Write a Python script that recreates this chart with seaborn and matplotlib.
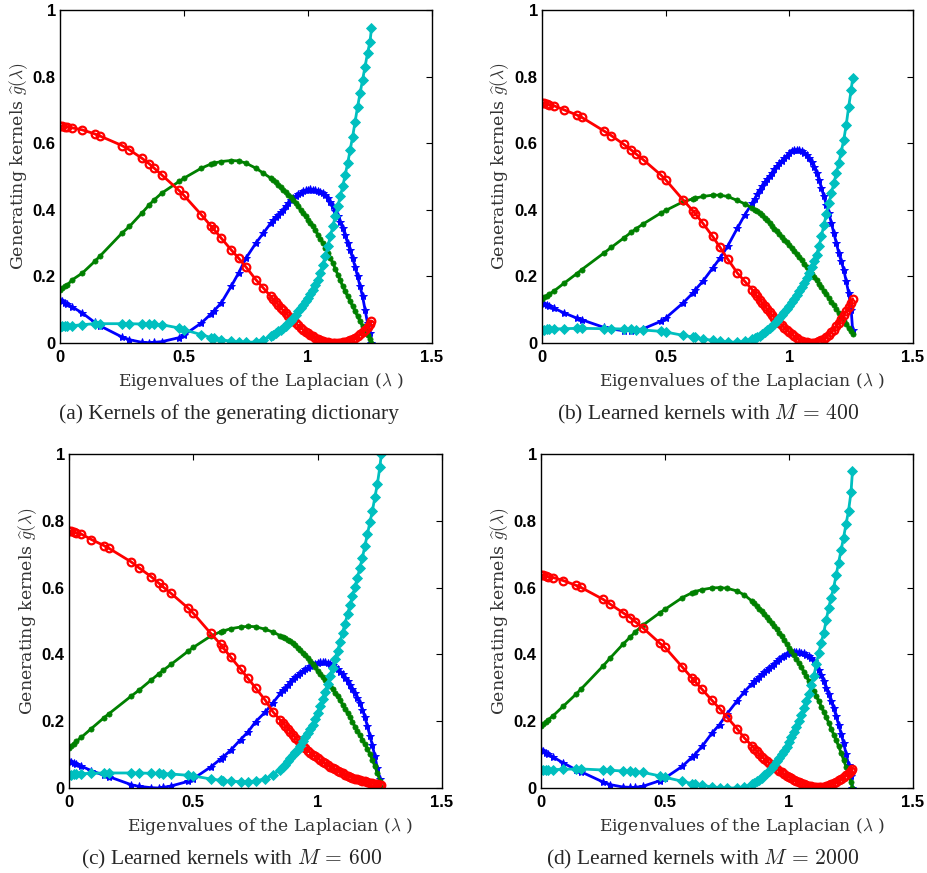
import matplotlib
matplotlib.use("Agg")
import matplotlib.pyplot as plt
import seaborn as sns
import pandas as pd

# Eigenvalues of the Laplacian: sparse low part and dense high part
lam_low = [0.00, 0.01, 0.02, 0.03, 0.05, 0.09, 0.14, 0.16,
           0.25, 0.28, 0.33, 0.36, 0.38, 0.41,
           0.48, 0.50, 0.57, 0.61, 0.62, 0.65, 0.69, 0.72, 0.75, 0.79, 0.82, 0.85]
lam_high = [0.86, 0.87, 0.88, 0.89, 0.90, 0.91, 0.92, 0.93, 0.94, 0.95,
            0.96, 0.97, 0.98, 0.99, 1.00, 1.01, 1.02, 1.03, 1.04, 1.05,
            1.06, 1.07, 1.08, 1.09, 1.10, 1.11, 1.12, 1.13, 1.14, 1.15,
            1.16, 1.17, 1.18, 1.19, 1.20, 1.21, 1.22, 1.23, 1.24, 1.25,
            1.256]

# ---------------- (a) generating dictionary ----------------
a_red_low = [0.652, 0.651, 0.650, 0.649, 0.646, 0.640, 0.628, 0.622,
             0.593, 0.580, 0.555, 0.538, 0.525, 0.505,
             0.458, 0.443, 0.385, 0.350, 0.342, 0.315, 0.280, 0.255, 0.228, 0.190, 0.165, 0.140]
a_red_high = [0.131, 0.123, 0.115, 0.106, 0.098, 0.090, 0.082, 0.074, 0.067, 0.060,
              0.053, 0.046, 0.040, 0.034, 0.029, 0.024, 0.020, 0.016, 0.012, 0.009,
              0.006, 0.004, 0.002, 0.001, 0.000, 0.000, 0.000, 0.001, 0.002, 0.004,
              0.006, 0.009, 0.012, 0.016, 0.020, 0.026, 0.032, 0.039, 0.047, 0.056,
              0.065]
a_green_low = [0.160, 0.165, 0.170, 0.175, 0.190, 0.210, 0.245, 0.260,
               0.330, 0.350, 0.390, 0.415, 0.430, 0.450,
               0.485, 0.495, 0.525, 0.538, 0.540, 0.545, 0.548, 0.547, 0.540, 0.525, 0.510, 0.495]
a_green_high = [0.489, 0.482, 0.475, 0.468, 0.460, 0.453, 0.445, 0.438, 0.430, 0.420,
                0.410, 0.400, 0.390, 0.380, 0.370, 0.360, 0.350, 0.338, 0.325, 0.313,
                0.300, 0.285, 0.270, 0.255, 0.240, 0.223, 0.205, 0.188, 0.170, 0.155,
                0.140, 0.125, 0.110, 0.095, 0.080, 0.065, 0.050, 0.038, 0.025, 0.012,
                0.000]
a_blue_low = [0.130, 0.125, 0.120, 0.116, 0.108, 0.090, 0.062, 0.052,
              0.018, 0.010, 0.002, 0.001, 0.002, 0.004,
              0.016, 0.024, 0.060, 0.088, 0.096, 0.120, 0.170, 0.210, 0.255, 0.300, 0.330, 0.360]
a_blue_high = [0.368, 0.377, 0.385, 0.392, 0.400, 0.410, 0.420, 0.428, 0.435, 0.441,
               0.447, 0.451, 0.455, 0.458, 0.460, 0.461, 0.460, 0.459, 0.457, 0.454,
               0.450, 0.443, 0.435, 0.423, 0.410, 0.396, 0.380, 0.363, 0.345, 0.323,
               0.300, 0.278, 0.255, 0.228, 0.200, 0.170, 0.140, 0.100, 0.060, 0.030,
               0.000]
a_cyan_low = [0.048, 0.050, 0.050, 0.051, 0.052, 0.055, 0.058, 0.058,
              0.058, 0.058, 0.057, 0.057, 0.056, 0.055,
              0.045, 0.040, 0.025, 0.016, 0.014, 0.010, 0.005, 0.002, 0.002, 0.003, 0.010, 0.020]
a_cyan_high = [0.025, 0.030, 0.035, 0.040, 0.045, 0.052, 0.060, 0.067, 0.075, 0.085,
               0.095, 0.105, 0.115, 0.125, 0.135, 0.147, 0.160, 0.175, 0.190, 0.210,
               0.235, 0.262, 0.290, 0.320, 0.350, 0.380, 0.410, 0.440, 0.470, 0.505,
               0.540, 0.580, 0.620, 0.665, 0.710, 0.750, 0.790, 0.830, 0.870, 0.905,
               0.945]

# ---------------- (b) M = 400 ----------------
b_red_low = [0.722, 0.720, 0.718, 0.716, 0.712, 0.700, 0.685, 0.678,
             0.637, 0.623, 0.597, 0.580, 0.568, 0.550,
             0.505, 0.490, 0.430, 0.397, 0.388, 0.360, 0.320, 0.287, 0.253, 0.210, 0.185, 0.160]
b_red_high = [0.150, 0.140, 0.130, 0.121, 0.112, 0.102, 0.093, 0.084, 0.076, 0.068,
              0.060, 0.053, 0.046, 0.039, 0.033, 0.026, 0.020, 0.015, 0.010, 0.007,
              0.004, 0.002, 0.001, 0.001, 0.001, 0.003, 0.005, 0.009, 0.013, 0.019,
              0.025, 0.032, 0.040, 0.050, 0.060, 0.072, 0.085, 0.096, 0.108, 0.120,
              0.133]
b_green_low = [0.132, 0.137, 0.142, 0.147, 0.157, 0.180, 0.208, 0.220,
               0.270, 0.287, 0.315, 0.332, 0.343, 0.358,
               0.390, 0.398, 0.424, 0.433, 0.435, 0.440, 0.444, 0.444, 0.440, 0.428, 0.418, 0.405]
b_green_high = [0.400, 0.395, 0.390, 0.383, 0.375, 0.368, 0.360, 0.352, 0.343, 0.335,
                0.327, 0.318, 0.310, 0.302, 0.293, 0.284, 0.275, 0.266, 0.257, 0.248,
                0.238, 0.228, 0.218, 0.208, 0.198, 0.188, 0.178, 0.168, 0.157, 0.146,
                0.135, 0.124, 0.113, 0.102, 0.090, 0.078, 0.067, 0.056, 0.045, 0.035,
                0.028]
b_blue_low = [0.120, 0.116, 0.113, 0.110, 0.104, 0.090, 0.075, 0.070,
              0.047, 0.042, 0.037, 0.037, 0.039, 0.043,
              0.065, 0.075, 0.120, 0.150, 0.160, 0.185, 0.225, 0.255, 0.290, 0.345, 0.385, 0.420]
b_blue_high = [0.433, 0.447, 0.460, 0.471, 0.482, 0.492, 0.502, 0.512, 0.522, 0.531,
               0.540, 0.548, 0.556, 0.563, 0.570, 0.576, 0.580, 0.581, 0.580, 0.577,
               0.572, 0.565, 0.555, 0.543, 0.530, 0.512, 0.490, 0.465, 0.440, 0.415,
               0.390, 0.360, 0.330, 0.300, 0.270, 0.245, 0.220, 0.185, 0.150, 0.100,
               0.038]
b_cyan_low = [0.040, 0.040, 0.041, 0.041, 0.042, 0.043, 0.044, 0.044,
              0.043, 0.043, 0.042, 0.041, 0.040, 0.039,
              0.035, 0.033, 0.023, 0.018, 0.017, 0.012, 0.008, 0.005, 0.003, 0.002, 0.005, 0.012]
b_cyan_high = [0.015, 0.018, 0.022, 0.027, 0.033, 0.039, 0.045, 0.051, 0.058, 0.066,
               0.075, 0.084, 0.093, 0.102, 0.112, 0.122, 0.132, 0.143, 0.155, 0.167,
               0.180, 0.195, 0.210, 0.227, 0.245, 0.265, 0.290, 0.322, 0.355, 0.388,
               0.420, 0.450, 0.480, 0.510, 0.540, 0.575, 0.610, 0.655, 0.710, 0.760,
               0.795]

# ---------------- (c) M = 600 ----------------
c_red_low = [0.770, 0.768, 0.766, 0.764, 0.760, 0.744, 0.726, 0.718,
             0.677, 0.660, 0.633, 0.614, 0.601, 0.583,
             0.538, 0.523, 0.463, 0.430, 0.420, 0.392, 0.356, 0.328, 0.300, 0.262, 0.228, 0.203]
c_red_high = [0.195, 0.186, 0.178, 0.169, 0.160, 0.151, 0.143, 0.134, 0.126, 0.119,
              0.112, 0.106, 0.100, 0.095, 0.090, 0.084, 0.079, 0.074, 0.069, 0.064,
              0.060, 0.056, 0.052, 0.048, 0.044, 0.040, 0.037, 0.034, 0.031, 0.028,
              0.026, 0.024, 0.022, 0.020, 0.018, 0.016, 0.015, 0.013, 0.012, 0.010,
              0.009]
c_green_low = [0.120, 0.127, 0.133, 0.140, 0.152, 0.178, 0.210, 0.222,
               0.275, 0.292, 0.323, 0.341, 0.353, 0.370,
               0.410, 0.421, 0.455, 0.468, 0.470, 0.477, 0.482, 0.484, 0.483, 0.475, 0.467, 0.456]
c_green_high = [0.452, 0.448, 0.444, 0.439, 0.433, 0.427, 0.420, 0.413, 0.405, 0.398,
                0.390, 0.381, 0.372, 0.361, 0.350, 0.342, 0.333, 0.324, 0.315, 0.306,
                0.296, 0.285, 0.274, 0.262, 0.250, 0.238, 0.225, 0.212, 0.198, 0.184,
                0.170, 0.158, 0.145, 0.132, 0.118, 0.102, 0.085, 0.065, 0.045, 0.022,
                0.002]
c_blue_low = [0.080, 0.077, 0.074, 0.071, 0.065, 0.052, 0.038, 0.034,
              0.010, 0.005, 0.001, 0.000, 0.002, 0.006,
              0.020, 0.028, 0.063, 0.087, 0.093, 0.113, 0.145, 0.168, 0.198, 0.228, 0.255, 0.283]
c_blue_high = [0.292, 0.300, 0.308, 0.317, 0.325, 0.332, 0.338, 0.344, 0.350, 0.355,
               0.360, 0.364, 0.368, 0.371, 0.374, 0.376, 0.377, 0.377, 0.375, 0.372,
               0.368, 0.362, 0.355, 0.348, 0.340, 0.330, 0.320, 0.309, 0.297, 0.284,
               0.270, 0.253, 0.235, 0.212, 0.185, 0.157, 0.128, 0.095, 0.060, 0.028,
               0.000]
c_cyan_low = [0.040, 0.040, 0.041, 0.042, 0.043, 0.044, 0.045, 0.045,
              0.045, 0.045, 0.044, 0.044, 0.043, 0.042,
              0.038, 0.036, 0.027, 0.023, 0.022, 0.020, 0.019, 0.019, 0.021, 0.028, 0.040, 0.055]
c_cyan_high = [0.062, 0.070, 0.080, 0.090, 0.100, 0.108, 0.115, 0.127, 0.140, 0.152,
               0.165, 0.177, 0.190, 0.207, 0.225, 0.245, 0.265, 0.287, 0.310, 0.335,
               0.360, 0.385, 0.410, 0.437, 0.465, 0.492, 0.520, 0.547, 0.575, 0.602,
               0.630, 0.660, 0.690, 0.725, 0.760, 0.795, 0.830, 0.870, 0.910, 0.960,
               1.000]

# ---------------- (d) M = 2000 ----------------
d_red_low = [0.638, 0.637, 0.635, 0.633, 0.630, 0.621, 0.607, 0.601,
             0.565, 0.550, 0.525, 0.510, 0.498, 0.480,
             0.433, 0.421, 0.362, 0.328, 0.320, 0.295, 0.262, 0.238, 0.212, 0.178, 0.150, 0.127]
d_red_high = [0.118, 0.110, 0.102, 0.094, 0.087, 0.081, 0.075, 0.069, 0.063, 0.057,
              0.052, 0.047, 0.042, 0.037, 0.033, 0.029, 0.025, 0.021, 0.018, 0.015,
              0.012, 0.009, 0.007, 0.005, 0.004, 0.003, 0.003, 0.003, 0.004, 0.006,
              0.008, 0.011, 0.015, 0.019, 0.023, 0.028, 0.033, 0.039, 0.045, 0.052,
              0.058]
d_green_low = [0.185, 0.192, 0.198, 0.205, 0.217, 0.245, 0.280, 0.295,
               0.365, 0.390, 0.430, 0.452, 0.467, 0.487,
               0.525, 0.535, 0.570, 0.585, 0.588, 0.594, 0.599, 0.600, 0.598, 0.590, 0.578, 0.560]
d_green_high = [0.553, 0.545, 0.537, 0.529, 0.520, 0.512, 0.503, 0.494, 0.485, 0.475,
                0.465, 0.454, 0.443, 0.432, 0.420, 0.409, 0.397, 0.385, 0.373, 0.361,
                0.348, 0.334, 0.320, 0.305, 0.290, 0.275, 0.260, 0.244, 0.228, 0.212,
                0.195, 0.178, 0.160, 0.143, 0.125, 0.105, 0.085, 0.063, 0.040, 0.018,
                0.000]
d_blue_low = [0.115, 0.110, 0.106, 0.101, 0.092, 0.075, 0.055, 0.049,
              0.018, 0.010, 0.003, 0.002, 0.002, 0.005,
              0.022, 0.030, 0.065, 0.093, 0.100, 0.125, 0.165, 0.190, 0.222, 0.260, 0.288, 0.312]
d_blue_high = [0.320, 0.327, 0.333, 0.340, 0.347, 0.354, 0.360, 0.366, 0.372, 0.379,
               0.385, 0.391, 0.396, 0.400, 0.403, 0.406, 0.408, 0.408, 0.407, 0.405,
               0.403, 0.399, 0.395, 0.388, 0.380, 0.367, 0.353, 0.337, 0.320, 0.300,
               0.280, 0.260, 0.240, 0.215, 0.190, 0.163, 0.135, 0.103, 0.070, 0.035,
               0.000]
d_cyan_low = [0.053, 0.053, 0.054, 0.054, 0.055, 0.056, 0.057, 0.057,
              0.054, 0.053, 0.051, 0.050, 0.049, 0.047,
              0.036, 0.032, 0.020, 0.013, 0.012, 0.008, 0.003, 0.001, 0.000, 0.000, 0.003, 0.012]
d_cyan_high = [0.016, 0.020, 0.025, 0.031, 0.038, 0.045, 0.052, 0.061, 0.070, 0.080,
               0.090, 0.101, 0.112, 0.124, 0.137, 0.152, 0.168, 0.184, 0.200, 0.220,
               0.240, 0.260, 0.280, 0.307, 0.335, 0.370, 0.405, 0.435, 0.465, 0.502,
               0.540, 0.570, 0.600, 0.637, 0.675, 0.712, 0.750, 0.790, 0.830, 0.885,
               0.950]

captions = ["(a) Kernels of the generating dictionary",
            r"(b) Learned kernels with $M\,=\,400$",
            r"(c) Learned kernels with $M\,=\,600$",
            r"(d) Learned kernels with $M\,=\,2000$"]
panels = [
    (a_red_low + a_red_high, a_green_low + a_green_high, a_blue_low + a_blue_high, a_cyan_low + a_cyan_high),
    (b_red_low + b_red_high, b_green_low + b_green_high, b_blue_low + b_blue_high, b_cyan_low + b_cyan_high),
    (c_red_low + c_red_high, c_green_low + c_green_high, c_blue_low + c_blue_high, c_cyan_low + c_cyan_high),
    (d_red_low + d_red_high, d_green_low + d_green_high, d_blue_low + d_blue_high, d_cyan_low + d_cyan_high),
]
lam = lam_low + lam_high
xticks = [0, 0.5, 1, 1.5]
xticklabels = ["0", "0.5", "1", "1.5"]
yticks = [0, 0.2, 0.4, 0.6, 0.8, 1]
yticklabels = ["0", "0.2", "0.4", "0.6", "0.8", "1"]

sns.set_style("white")
plt.rcParams["mathtext.fontset"] = "cm"
plt.rcParams["font.family"] = ["DejaVu Sans"]

fig = plt.figure(figsize=(9.28, 8.73), dpi=100)
rects = [(60, 10, 432, 343), (542, 10, 913, 343),
         (69, 454, 442, 788), (541, 454, 913, 788)]
ylabel_x = [19, 500, 28, 500]
caption_pos = [(229, 414), (708, 414), (232, 859), (703, 859)]
W, H = 928.0, 873.0

RED, GREEN, BLUE, CYAN = (1, 0, 0), (0, 0.5, 0), (0, 0, 1), (0, 0.75, 0.75)
styles = {
    "blue": dict(color=BLUE, marker="*", markersize=6, markeredgewidth=0.7,
                 markeredgecolor=BLUE, markerfacecolor=BLUE),
    "green": dict(color=GREEN, marker=".", markersize=7.5, markeredgewidth=0.5,
                  markeredgecolor=GREEN, markerfacecolor=GREEN),
    "red": dict(color=RED, marker="o", markersize=5.5, markerfacecolor="none",
                markeredgecolor=RED, markeredgewidth=1.6),
    "cyan": dict(color=CYAN, marker="D", markersize=4.8, markeredgewidth=0.6,
                 markeredgecolor=CYAN, markerfacecolor=CYAN),
}

for i, (rect, (red, green, blue, cyan)) in enumerate(zip(rects, panels)):
    l, t, r, b = rect
    ax = fig.add_axes([l / W, 1 - b / H, (r - l) / W, (b - t) / H])
    df = pd.DataFrame({"lam": lam, "red": red, "green": green, "blue": blue, "cyan": cyan})
    for name in ["blue", "green", "red", "cyan"]:
        sns.lineplot(data=df, x="lam", y=name, ax=ax, linewidth=2.0, sort=False,
                     estimator=None, **styles[name])
    ax.set_xlim(0, 1.5)
    ax.set_ylim(0, 1)
    ax.set_xticks(xticks)
    ax.set_xticklabels(xticklabels, fontsize=12, fontweight="bold", family="Liberation Sans")
    ax.set_yticks(yticks)
    ax.set_yticklabels(yticklabels, fontsize=12, fontweight="bold", family="Liberation Sans")
    ax.tick_params(direction="in", length=4, width=0.8, top=True, right=True,
                   colors="black", pad=3)
    ax.tick_params(axis="x", pad=5)
    for s in ax.spines.values():
        s.set_color("black")
        s.set_linewidth(1.0)
    ax.set_xlabel(r"Eigenvalues of the Laplacian ($\lambda$ )", family="DejaVu Serif",
                  fontsize=12.3, color="#333333")
    ax.xaxis.set_label_coords(0.54, -0.085)
    ax.set_ylabel(r"Generating kernels $\widehat{g}(\lambda)$", family="DejaVu Serif",
                  fontsize=12.5, color="#333333", va="center")
    ax.yaxis.set_label_coords((ylabel_x[i] - l) / (r - l), 0.53)
    cx, cy = caption_pos[i]
    fig.text(cx / W, 1 - cy / H, captions[i], ha="center", va="center",
             family="Liberation Serif", fontsize=15.5, math_fontfamily="cm")

fig.savefig("out.png", dpi=100)
